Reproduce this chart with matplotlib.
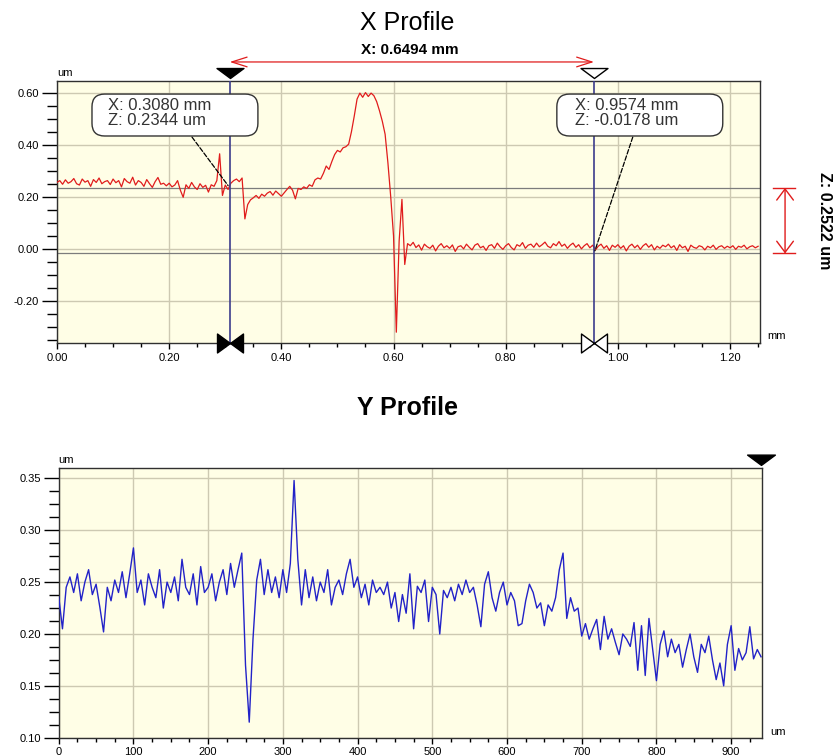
import numpy as np
import matplotlib.pyplot as plt
import matplotlib.transforms as mtransforms
from matplotlib.path import Path
from matplotlib.patches import FancyBboxPatch
from matplotlib.ticker import MultipleLocator, FormatStrFormatter

plt.rcParams['font.family'] = ['Liberation Sans', 'DejaVu Sans']

# X profile: height (um) every 0.005 mm from 0 to 1.25 mm
x_profile_z = [
    0.255, 0.262, 0.248, 0.265, 0.252, 0.258, 0.270, 0.250, 0.245, 0.268, 0.256, 0.262, 0.240, 0.266, 0.255, 0.272, 0.250, 0.258, 0.262, 0.247,
    0.268, 0.254, 0.262, 0.238, 0.270, 0.258, 0.252, 0.275, 0.245, 0.262, 0.255, 0.240, 0.266, 0.250, 0.236, 0.258, 0.274, 0.248, 0.252, 0.242,
    0.252, 0.238, 0.245, 0.262, 0.225, 0.198, 0.246, 0.232, 0.255, 0.238, 0.228, 0.250, 0.236, 0.244, 0.218, 0.246, 0.240, 0.262, 0.365, 0.205,
    0.245, 0.228, 0.252, 0.262, 0.268, 0.258, 0.272, 0.115, 0.170, 0.188, 0.196, 0.205, 0.194, 0.210, 0.202, 0.214, 0.220, 0.206, 0.222, 0.212,
    0.202, 0.215, 0.228, 0.240, 0.225, 0.192, 0.232, 0.228, 0.238, 0.232, 0.246, 0.240, 0.265, 0.272, 0.268, 0.290, 0.318, 0.305, 0.335, 0.362,
    0.378, 0.372, 0.388, 0.392, 0.402, 0.450, 0.510, 0.575, 0.598, 0.582, 0.600, 0.585, 0.598, 0.588, 0.565, 0.530, 0.490, 0.440, 0.330, 0.200,
    0.050, -0.320, 0.030, 0.190, -0.060, 0.020, 0.012, 0.025, 0.005, 0.015, -0.005, 0.018, 0.008, 0.002, 0.014, -0.008, 0.010, 0.020, 0.004, 0.012,
    0.002, 0.015, -0.010, 0.008, 0.012, 0.000, 0.018, 0.006, -0.004, 0.014, 0.020, 0.004, 0.010, -0.006, 0.012, 0.016, 0.002, 0.022, 0.008, -0.002,
    0.012, 0.020, 0.005, -0.004, 0.016, 0.010, 0.024, 0.002, 0.014, 0.018, 0.006, 0.022, 0.008, 0.016, 0.026, 0.010, 0.004, 0.020, 0.012, 0.028,
    0.010, 0.018, 0.002, 0.014, 0.022, 0.006, 0.016, 0.000, 0.012, 0.020, 0.004, 0.014, -0.004, 0.010, 0.018, 0.002, 0.012, -0.006, 0.014, 0.006,
    0.016, 0.002, 0.012, -0.008, 0.010, 0.018, 0.004, 0.014, -0.002, 0.012, 0.020, 0.006, 0.016, -0.004, 0.010, 0.002, 0.014, 0.008, 0.018, 0.004,
    0.012, -0.006, 0.016, 0.004, 0.010, -0.010, 0.014, 0.006, 0.002, 0.012, 0.008, -0.004, 0.010, 0.004, 0.014, -0.002, 0.008, 0.012, 0.002, 0.010,
    0.004, 0.012, -0.002, 0.010, 0.006, 0.014, 0.000, 0.008, 0.012, 0.004, 0.010,
]
x_profile_x = np.linspace(0, 1.25, len(x_profile_z))

# Y profile: height (um) every 5 um from 0 to 940 um
y_profile_z = [
    0.236, 0.205, 0.245, 0.255, 0.240, 0.258, 0.232, 0.250, 0.262, 0.238, 0.248, 0.226, 0.202, 0.245, 0.232, 0.252, 0.240, 0.260, 0.235, 0.258,
    0.283, 0.240, 0.252, 0.228, 0.258, 0.245, 0.235, 0.262, 0.225, 0.250, 0.240, 0.255, 0.232, 0.272, 0.245, 0.238, 0.258, 0.228, 0.265, 0.240,
    0.245, 0.258, 0.232, 0.250, 0.262, 0.238, 0.268, 0.245, 0.262, 0.278, 0.170, 0.115, 0.195, 0.252, 0.272, 0.238, 0.262, 0.240, 0.255, 0.235,
    0.262, 0.240, 0.268, 0.348, 0.272, 0.228, 0.262, 0.235, 0.255, 0.232, 0.250, 0.240, 0.262, 0.228, 0.245, 0.252, 0.238, 0.258, 0.272, 0.245,
    0.255, 0.235, 0.248, 0.228, 0.252, 0.240, 0.245, 0.238, 0.250, 0.225, 0.240, 0.212, 0.238, 0.220, 0.258, 0.205, 0.246, 0.240, 0.252, 0.212,
    0.245, 0.238, 0.200, 0.242, 0.235, 0.245, 0.232, 0.248, 0.238, 0.252, 0.240, 0.245, 0.228, 0.207, 0.248, 0.260, 0.235, 0.222, 0.240, 0.250,
    0.228, 0.240, 0.232, 0.208, 0.210, 0.232, 0.248, 0.240, 0.225, 0.230, 0.208, 0.228, 0.222, 0.235, 0.262, 0.278, 0.215, 0.235, 0.222, 0.225,
    0.198, 0.210, 0.195, 0.205, 0.214, 0.185, 0.217, 0.195, 0.205, 0.192, 0.180, 0.200, 0.195, 0.188, 0.211, 0.165, 0.208, 0.160, 0.215, 0.185,
    0.155, 0.190, 0.203, 0.178, 0.195, 0.182, 0.190, 0.168, 0.185, 0.200, 0.178, 0.163, 0.190, 0.182, 0.198, 0.175, 0.156, 0.172, 0.150, 0.190,
    0.208, 0.165, 0.186, 0.175, 0.182, 0.207, 0.176, 0.185, 0.178,
]
y_profile_u = np.linspace(0, 940, len(y_profile_z))

cursor_x = [0.3080, 0.9574]
cursor_z = [0.2344, -0.0178]
cursor_filled = [True, False]

# marker shapes (pixel-like units, anchored on the axes edge)
tri_down = Path([(-13.5, 13), (13.5, 13), (0, 3), (-13.5, 13)],
                [Path.MOVETO, Path.LINETO, Path.LINETO, Path.CLOSEPOLY])
bowtie = Path([(-13, 9.5), (-13, -9.5), (0, 0), (-13, 9.5),
               (13, 9.5), (13, -9.5), (0, 0), (13, 9.5)],
              [Path.MOVETO, Path.LINETO, Path.LINETO, Path.CLOSEPOLY] * 2)

bg = '#fffee6'
grid_c = '#cdc9b2'
red = '#e01c1c'

fig = plt.figure(figsize=(8.33, 7.56), dpi=100)
ax1 = fig.add_axes([0.0684, 0.5463, 0.844, 0.3466])
ax2 = fig.add_axes([0.0705, 0.0242, 0.844, 0.357])

for ax in (ax1, ax2):
    ax.set_facecolor(bg)
    ax.grid(True, which='major', color=grid_c, linewidth=1.0)
    ax.set_axisbelow(True)
    for s in ax.spines.values():
        s.set_color('#303030')
        s.set_linewidth(1.0)
    ax.tick_params(axis='y', which='major', length=11, width=1, labelsize=8, pad=2)
    ax.tick_params(axis='y', which='minor', length=7, width=1)
    ax.tick_params(axis='x', which='major', length=4, width=1, labelsize=8, pad=3)
    ax.tick_params(axis='x', which='minor', length=3, width=1)

# ---------------- X profile ----------------
ax1.plot(x_profile_x, x_profile_z, color=red, linewidth=0.9, zorder=3)
ax1.set_xlim(0, 1.2534)
ax1.set_ylim(-0.3615, 0.6446)
ax1.xaxis.set_major_locator(MultipleLocator(0.2))
ax1.xaxis.set_minor_locator(MultipleLocator(0.05))
ax1.yaxis.set_major_locator(MultipleLocator(0.2))
ax1.yaxis.set_minor_locator(MultipleLocator(0.05))
ax1.xaxis.set_major_formatter(FormatStrFormatter('%.2f'))
ax1.yaxis.set_major_formatter(FormatStrFormatter('%.2f'))

for z in cursor_z:
    ax1.axhline(z, color='#7c7c7c', linewidth=0.9, zorder=2)
for x in cursor_x:
    ax1.axvline(x, color='#3c3c8c', linewidth=1.2, zorder=4)

top_tr = mtransforms.blended_transform_factory(ax1.transData, ax1.transAxes)
for x, filled in zip(cursor_x, cursor_filled):
    fc = 'black' if filled else 'white'
    ax1.plot([x], [1.0], marker=tri_down, markersize=19.4, mfc=fc, mec='black',
             mew=1, transform=top_tr, clip_on=False, zorder=6)
    ax1.plot([x], [0.0], marker=bowtie, markersize=18.7, mfc=fc, mec='black',
             mew=1, transform=top_tr, clip_on=False, zorder=6)

# span arrow between cursors
ax1.annotate('', xy=(cursor_x[0], 1.0725), xytext=(cursor_x[1], 1.0725),
             xycoords=top_tr, textcoords=top_tr,
             arrowprops=dict(arrowstyle='<->,head_length=1.1,head_width=0.35',
                             color=red, lw=0.9, shrinkA=0, shrinkB=0,
                             mutation_scale=10))
fig.text(0.4886, 0.9696, 'X Profile', ha='center', va='center', fontsize=18)
fig.text(0.492, 0.9339, 'X: %.4f mm' % (cursor_x[1] - cursor_x[0]), ha='center',
         va='center', fontsize=11, fontweight='bold')

# height difference marker on the right
side_tr = mtransforms.blended_transform_factory(ax1.transAxes, ax1.transData)
ax1.annotate('', xy=(1.0356, cursor_z[0]), xytext=(1.0356, cursor_z[1]),
             xycoords=side_tr, textcoords=side_tr,
             arrowprops=dict(arrowstyle='<->,head_length=0.8,head_width=0.6',
                             color=red, lw=1.0, shrinkA=0, shrinkB=0,
                             mutation_scale=10))
for z in cursor_z:
    ax1.plot([1.0185, 1.0498], [z, z], color=red, lw=1.0, transform=side_tr, clip_on=False)
ax1.text(1.092, (cursor_z[0] + cursor_z[1]) / 2, 'Z: %.4f um' % (cursor_z[0] - cursor_z[1]),
         rotation=-90, transform=side_tr, ha='center', va='center',
         fontsize=11.5, fontweight='bold')

# callout boxes
box_left = [0.0498, 0.711]
text_left = [0.0725, 0.737]
leader_start = [(0.192, 0.786), (0.819, 0.786)]
for i in range(2):
    box = FancyBboxPatch((box_left[i], 0.790), 0.236, 0.160,
                         boxstyle='round,pad=0,rounding_size=0.018',
                         mutation_aspect=703 / 262, transform=ax1.transAxes,
                         facecolor='white', edgecolor='#333333', lw=1.0, zorder=7)
    ax1.add_patch(box)
    ax1.text(text_left[i], 0.907, 'X: %.4f mm' % cursor_x[i], transform=ax1.transAxes,
             ha='left', va='center', fontsize=12, color='#333333', zorder=8)
    ax1.text(text_left[i], 0.848, 'Z: %.4f um' % cursor_z[i], transform=ax1.transAxes,
             ha='left', va='center', fontsize=12, color='#333333', zorder=8)
    ax1.annotate('', xy=(cursor_x[i], cursor_z[i]), xytext=leader_start[i],
                 xycoords='data', textcoords='axes fraction',
                 arrowprops=dict(arrowstyle='-', color='black', lw=0.9, ls='--',
                                 shrinkA=0, shrinkB=2), zorder=5)

ax1.text(0.0, 1.012, 'um', transform=ax1.transAxes, ha='left', va='bottom', fontsize=8)
ax1.text(1.011, 0.027, 'mm', transform=ax1.transAxes, ha='left', va='center', fontsize=8)

# ---------------- Y profile ----------------
ax2.plot(y_profile_u, y_profile_z, color='#2222c8', linewidth=1.0, zorder=3)
ax2.set_xlim(0, 941)
ax2.set_ylim(0.10, 0.3602)
ax2.xaxis.set_major_locator(MultipleLocator(100))
ax2.xaxis.set_minor_locator(MultipleLocator(25))
ax2.yaxis.set_major_locator(MultipleLocator(0.05))
ax2.yaxis.set_minor_locator(MultipleLocator(0.0125))
ax2.xaxis.set_major_formatter(FormatStrFormatter('%d'))
ax2.yaxis.set_major_formatter(FormatStrFormatter('%.2f'))

bot_tr = mtransforms.blended_transform_factory(ax2.transData, ax2.transAxes)
ax2.plot([y_profile_u[-1]], [1.0], marker=tri_down, markersize=20, mfc='black', mec='black',
         transform=bot_tr, clip_on=False, zorder=6)
fig.text(0.4886, 0.4603, 'Y Profile', ha='center', va='center', fontsize=18, fontweight='bold')
ax2.text(0.0, 1.012, 'um', transform=ax2.transAxes, ha='left', va='bottom', fontsize=8)
ax2.text(1.012, 0.021, 'um', transform=ax2.transAxes, ha='left', va='center', fontsize=8)

fig.savefig('out.png', dpi=100)
